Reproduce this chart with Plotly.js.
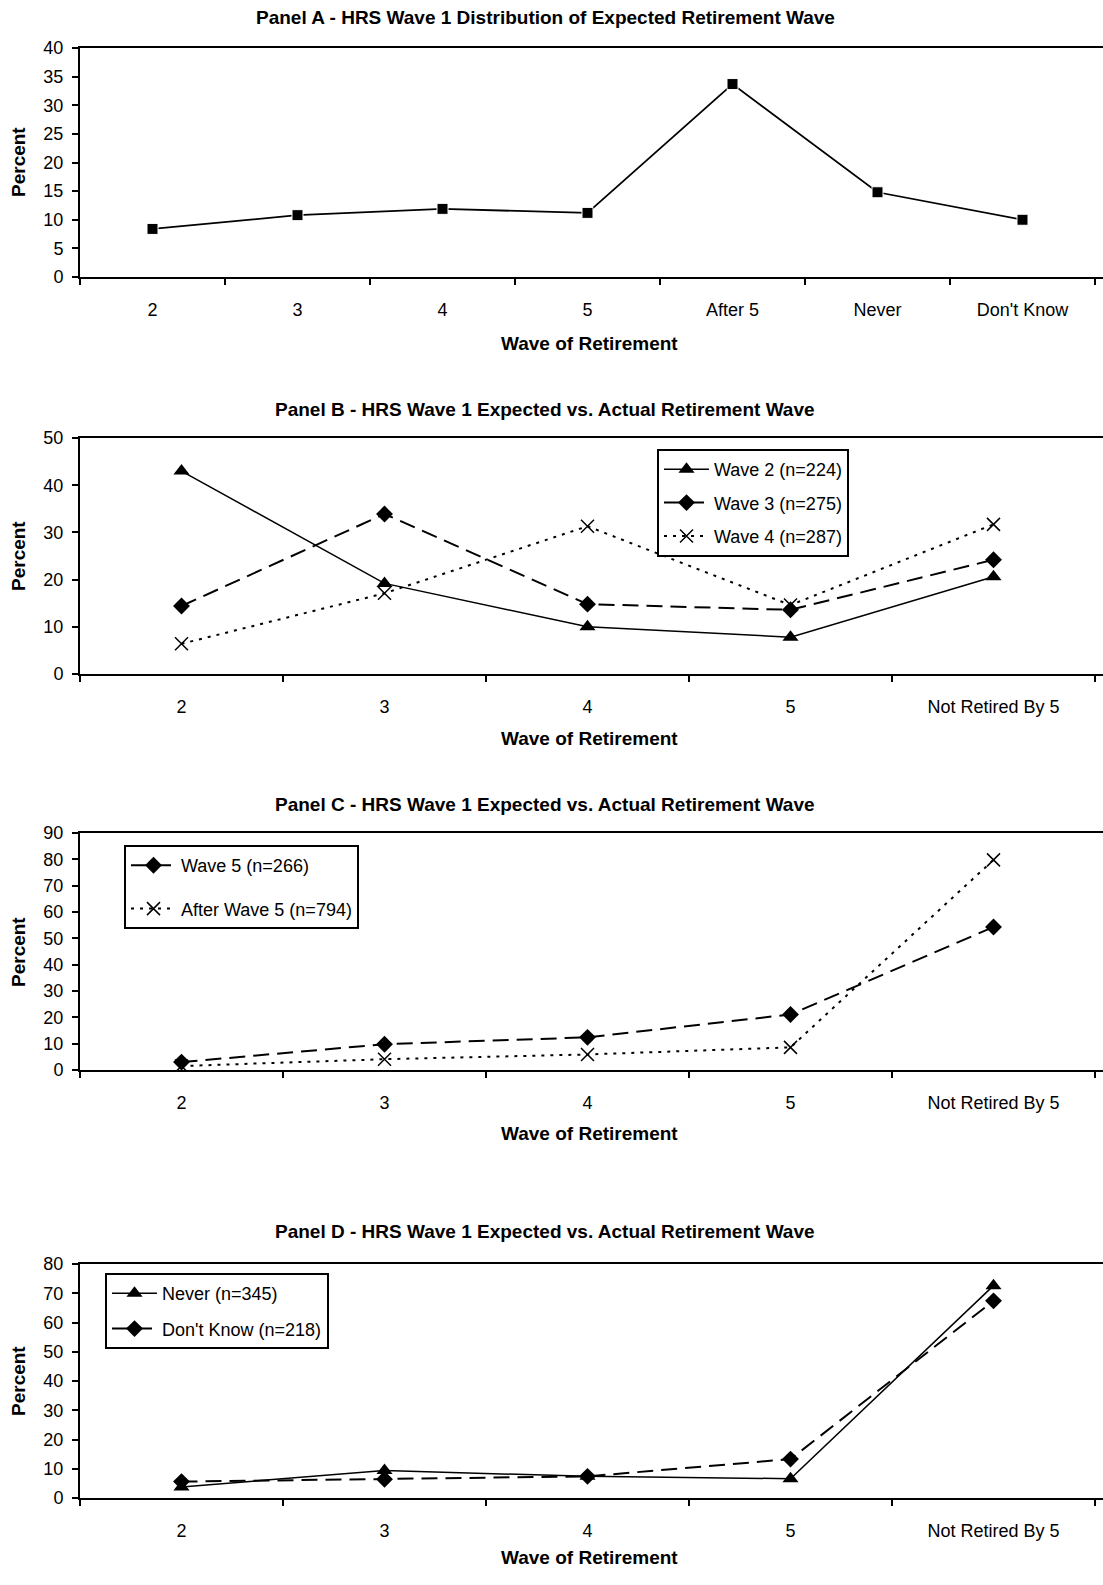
<!DOCTYPE html>
<html>
<head>
<meta charset="utf-8">
<script src="https://cdn.plot.ly/plotly-3.0.1.min.js"></script>
<style>html,body{margin:0;padding:0;background:#fff}#chart{width:1103px;height:1585px}</style>
</head>
<body>
<div id="chart"></div>
<script>
// ---- data ----
const catsA = ["2", "3", "4", "5", "After 5", "Never", "Don't Know"];
const valsA = [8.4, 10.8, 11.9, 11.2, 33.7, 14.8, 10.0];

const catsBCD = ["2", "3", "4", "5", "Not Retired By 5"];
const wave2 = [43.0, 19.2, 10.0, 7.8, 20.6];
const wave3 = [14.4, 33.9, 14.8, 13.6, 24.2];
const wave4 = [6.4, 17.1, 31.3, 14.6, 31.7];

const wave5 = [3.0, 9.8, 12.4, 21.1, 54.3];
const afterWave5 = [1.5, 4.1, 5.9, 8.6, 79.8];

const never = [3.8, 9.4, 7.4, 6.6, 72.6];
const dontKnow = [5.6, 6.4, 7.4, 13.3, 67.4];

const titles = [
  "Panel A - HRS Wave 1 Distribution of Expected Retirement Wave",
  "Panel B - HRS Wave 1 Expected vs. Actual Retirement Wave",
  "Panel C - HRS Wave 1 Expected vs. Actual Retirement Wave",
  "Panel D - HRS Wave 1 Expected vs. Actual Retirement Wave"
];
const xTitle = "Wave of Retirement";
const yTitle = "Percent";

// ---- layout helpers ----
const W = 1103, H = 1585;
const FONT = "Liberation Sans, Arial, sans-serif";
const py = p => 1 - p / H;
const px = p => p / W;

const panels = [
  {top: 48, bottom: 277, ymax: 40, dtick: 5, n: catsA.length, tY: 18, xtY: 343, ytY: 162},
  {top: 438, bottom: 674, ymax: 50, dtick: 10, n: catsBCD.length, tY: 410, xtY: 739, ytY: 556},
  {top: 833, bottom: 1070, ymax: 90, dtick: 10, n: catsBCD.length, tY: 805, xtY: 1133, ytY: 952},
  {top: 1264, bottom: 1498, ymax: 80, dtick: 10, n: catsBCD.length, tY: 1231, xtY: 1557, ytY: 1381}
];

const layout = {
  width: W, height: H,
  margin: {l: 0, r: 0, t: 0, b: 0},
  paper_bgcolor: "#fff", plot_bgcolor: "#fff",
  font: {family: FONT, size: 18, color: "#000"},
  showlegend: true,
  annotations: []
};

panels.forEach((p, i) => {
  const s = i === 0 ? "" : String(i + 1);
  layout["xaxis" + s] = {
    domain: [px(80), px(1103)],
    anchor: "y" + s,
    type: "category",
    range: [-0.5, p.n - 0.5 + (1103 - 1095) / ((1095 - 80) / p.n)],
    showline: true, linecolor: "#000", linewidth: 2,
    mirror: true,
    ticks: "outside", ticklen: 6, tickwidth: 2, tickcolor: "#000",
    tickson: "boundaries",
    ticklabelstandoff: 15,
    showgrid: false, zeroline: false,
    tickfont: {family: FONT, size: 18, color: "#000"},
    fixedrange: true
  };
  layout["yaxis" + s] = {
    domain: [py(p.bottom), py(p.top)],
    anchor: "x" + s,
    range: [0, p.ymax],
    dtick: p.dtick, tick0: 0,
    showline: true, linecolor: "#000", linewidth: 2,
    ticks: "outside", ticklen: 6, tickwidth: 2, tickcolor: "#000",
    ticklabelstandoff: 5,
    showgrid: false, zeroline: false,
    tickfont: {family: FONT, size: 18, color: "#000"},
    fixedrange: true
  };
  layout.annotations.push({
    text: "<b>" + titles[i] + "</b>", xref: "paper", yref: "paper",
    x: px(545), y: py(p.tY), xanchor: "center", yanchor: "middle",
    showarrow: false, font: {family: FONT, size: 19, color: "#000"}
  });
  layout.annotations.push({
    text: "<b>" + xTitle + "</b>", xref: "paper", yref: "paper",
    x: px(589), y: py(p.xtY), xanchor: "center", yanchor: "middle",
    showarrow: false, font: {family: FONT, size: 19, color: "#000"}
  });
  layout.annotations.push({
    text: "<b>" + yTitle + "</b>", xref: "paper", yref: "paper",
    x: px(18), y: py(p.ytY), xanchor: "center", yanchor: "middle",
    textangle: -90,
    showarrow: false, font: {family: FONT, size: 19, color: "#000"}
  });
});

const legendBase = {
  bgcolor: "#fff", bordercolor: "#000", borderwidth: 2,
  font: {family: FONT, size: 18, color: "#000"},
  xanchor: "left", yanchor: "top", xref: "paper", yref: "paper",
  itemwidth: 45,
  itemclick: false, itemdoubleclick: false
};
layout.legend = Object.assign({}, legendBase, {x: px(657), y: py(449), tracegroupgap: 7});
layout.legend2 = Object.assign({}, legendBase, {x: px(124), y: py(845), tracegroupgap: 17});
layout.legend3 = Object.assign({}, legendBase, {x: px(105), y: py(1273), tracegroupgap: 9});

const tri = {symbol: "triangle-up", size: 14, color: "#000"};
const dia = {symbol: "diamond", size: 13, color: "#000"};
const xm = {symbol: "x-thin", size: 13, color: "#000", line: {color: "#000", width: 1.5}};

const data = [
  {x: catsA, y: valsA, xaxis: "x", yaxis: "y", mode: "lines+markers", showlegend: false,
   line: {color: "#000", width: 1.8},
   marker: {symbol: "square", size: 11, color: "#000", line: {color: "#fff", width: 1}}},

  {x: catsBCD, y: wave2, xaxis: "x2", yaxis: "y2", mode: "lines+markers", name: "Wave 2 (n=224)",
   legend: "legend", legendgroup: "a",
   line: {color: "#000", width: 1.5}, marker: tri},
  {x: catsBCD, y: wave3, xaxis: "x2", yaxis: "y2", mode: "lines+markers", name: "Wave 3 (n=275)",
   legend: "legend", legendgroup: "b",
   line: {color: "#000", width: 2, dash: "16px,8px"}, marker: dia},
  {x: catsBCD, y: wave4, xaxis: "x2", yaxis: "y2", mode: "lines+markers", name: "Wave 4 (n=287)",
   legend: "legend", legendgroup: "c",
   line: {color: "#000", width: 2, dash: "3px,6px"}, marker: xm},

  {x: catsBCD, y: wave5, xaxis: "x3", yaxis: "y3", mode: "lines+markers", name: "Wave 5 (n=266)",
   legend: "legend2", legendgroup: "d",
   line: {color: "#000", width: 2, dash: "16px,8px"}, marker: dia},
  {x: catsBCD, y: afterWave5, xaxis: "x3", yaxis: "y3", mode: "lines+markers", name: "After Wave 5 (n=794)",
   legend: "legend2", legendgroup: "e",
   line: {color: "#000", width: 2, dash: "3px,6px"}, marker: xm},

  {x: catsBCD, y: never, xaxis: "x4", yaxis: "y4", mode: "lines+markers", name: "Never (n=345)",
   legend: "legend3", legendgroup: "f",
   line: {color: "#000", width: 1.5}, marker: tri},
  {x: catsBCD, y: dontKnow, xaxis: "x4", yaxis: "y4", mode: "lines+markers", name: "Don't Know (n=218)",
   legend: "legend3", legendgroup: "g",
   line: {color: "#000", width: 2, dash: "16px,8px"}, marker: dia}
];

Plotly.newPlot("chart", data, layout, {staticPlot: true, displayModeBar: false});
</script>
</body>
</html>
